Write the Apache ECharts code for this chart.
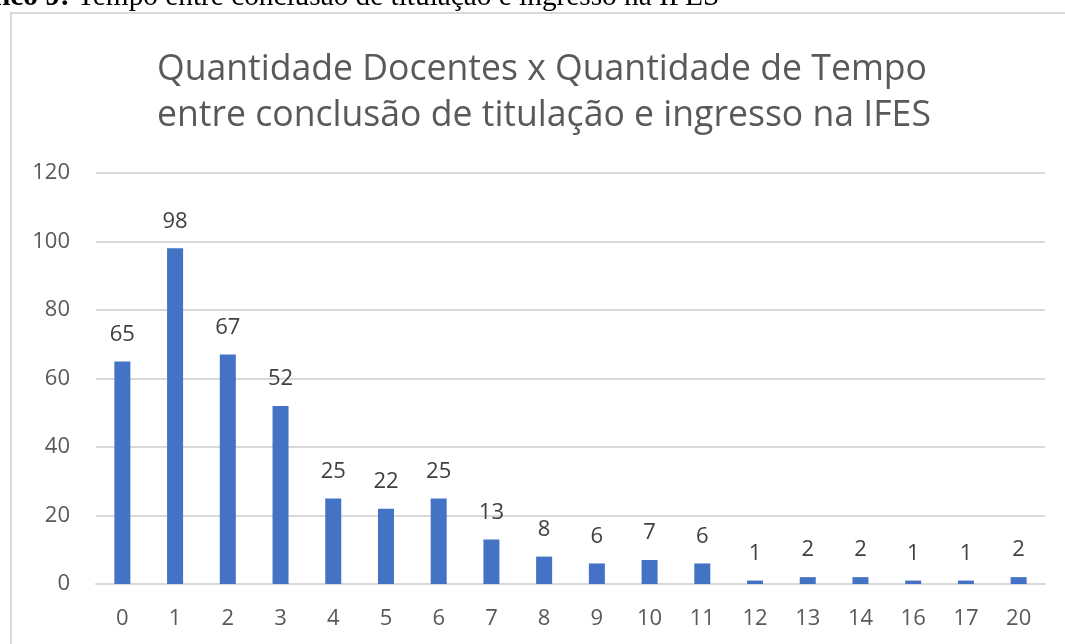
<!DOCTYPE html>
<html>
<head>
<meta charset="utf-8">
<script src="https://cdn.jsdelivr.net/npm/echarts@6/dist/echarts.min.js"></script>
<style>
html,body{margin:0;padding:0;background:#fff;}
#chart{width:1065px;height:644px;}
</style>
</head>
<body>
<div id="chart"></div>
<script>
const categories = ['0','1','2','3','4','5','6','7','8','9','10','11','12','13','14','16','17','20'];
const values = [65, 98, 67, 52, 25, 22, 25, 13, 8, 6, 7, 6, 1, 2, 2, 1, 1, 2];
const yTicks = { min: 0, max: 120, interval: 20 };
const titleLines = ['Quantidade Docentes x Quantidade de Tempo', 'entre conclusão de titulação e ingresso na IFES'];
const captionBold = 'Gráfico 9:';
const captionText = ' Tempo entre conclusão de titulação e ingresso na IFES';

const CAP_SIZE = 29.3;
// place caption so that its regular part starts where it does in the reference
const mctx = document.createElement('canvas').getContext('2d');
mctx.font = 'bold ' + CAP_SIZE + 'px "Liberation Serif"';
const boldW = mctx.measureText(captionBold).width;
mctx.font = CAP_SIZE + 'px "Liberation Serif"';
const spaceW = mctx.measureText(' ').width;
const captionX = 77 - boldW - spaceW;

const chart = echarts.init(document.getElementById('chart'), null, { renderer: 'canvas' });
chart.setOption({
  animation: false,
  backgroundColor: '#ffffff',
  graphic: [
    {
      type: 'rect',
      shape: { x: 11, y: 13, width: 1200, height: 800 },
      style: { fill: 'none', stroke: '#d9d9d9', lineWidth: 2 },
      silent: true
    },
    {
      type: 'text',
      x: captionX,
      y: -3,
      style: {
        text: '{b|' + captionBold + '}{n|' + captionText + '}',
        verticalAlign: 'middle',
        rich: {
          b: { fontFamily: 'Liberation Serif', fontWeight: 'bold', fontSize: CAP_SIZE, fill: '#000' },
          n: { fontFamily: 'Liberation Serif', fontSize: CAP_SIZE, fill: '#000' }
        }
      }
    }
  ],
  title: {
    text: titleLines.join('\n'),
    left: 152,
    top: 42,
    textAlign: 'left',
    textStyle: {
      fontFamily: 'Open Sans',
      fontWeight: 'normal',
      fontSize: 35.6,
      lineHeight: 46,
      color: '#595959',
      align: 'center'
    }
  },
  grid: { left: 96, right: 20, top: 173, bottom: 60, containLabel: false },
  xAxis: {
    type: 'category',
    data: categories,
    axisLine: { show: true, lineStyle: { color: '#d9d9d9', width: 2 } },
    axisTick: { show: false },
    axisLabel: { color: '#595959', fontSize: 22, fontFamily: 'Open Sans', margin: 24 }
  },
  yAxis: {
    type: 'value',
    min: yTicks.min,
    max: yTicks.max,
    interval: yTicks.interval,
    axisLine: { show: false },
    axisTick: { show: false },
    splitLine: { lineStyle: { color: '#d9d9d9', width: 2 } },
    axisLabel: { color: '#595959', fontSize: 22, fontFamily: 'Open Sans', margin: 26 }
  },
  series: [{
    type: 'bar',
    data: values,
    barWidth: 16,
    itemStyle: { color: '#4472C4' },
    label: {
      show: true,
      position: 'top',
      distance: 16,
      color: '#404040',
      fontSize: 22,
      fontFamily: 'Open Sans'
    }
  }]
});
</script>
</body>
</html>
